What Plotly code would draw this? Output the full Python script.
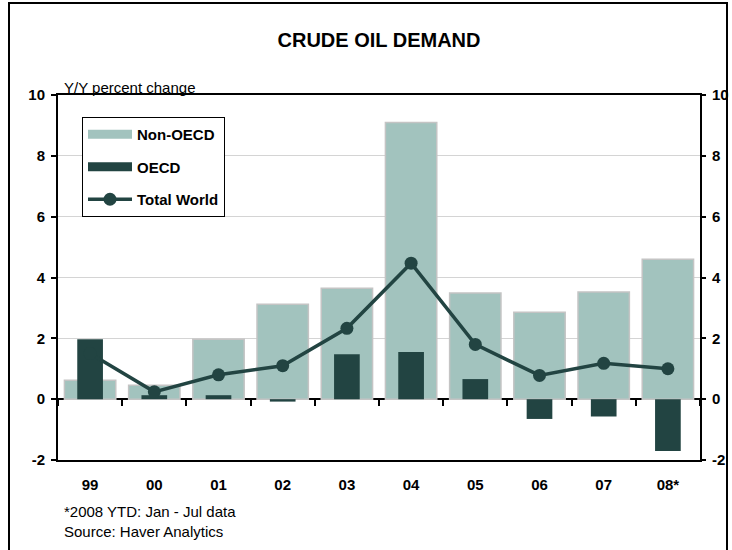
import plotly.graph_objects as go

categories = ["99", "00", "01", "02", "03", "04", "05", "06", "07", "08*"]
non_oecd = [0.62, 0.46, 1.97, 3.12, 3.65, 9.1, 3.49, 2.86, 3.52, 4.6]
oecd = [1.97, 0.13, 0.13, -0.08, 1.48, 1.55, 0.66, -0.65, -0.57, -1.7]
total_world = [1.5, 0.24, 0.8, 1.1, 2.33, 4.47, 1.8, 0.78, 1.18, 1.0]
y_ticks = [-2, 0, 2, 4, 6, 8, 10]
y_tick_text = ["-2", "0", "2", "4", "6", "8", "10"]

LIGHT = "#a2c3be"
DARK = "#224442"
FONT = "Arial, Liberation Sans, sans-serif"

fig = go.Figure()
fig.add_trace(go.Bar(x=categories, y=non_oecd, name="Non-OECD", width=0.8,
                     marker=dict(color=LIGHT, line=dict(color="#c4c4c4", width=1.5)),
                     showlegend=False))
fig.add_trace(go.Bar(x=categories, y=oecd, name="OECD", width=0.4,
                     marker=dict(color=DARK, line=dict(width=0)),
                     showlegend=False))
fig.add_trace(go.Scatter(x=categories, y=total_world, name="Total World",
                         mode="lines+markers",
                         line=dict(color=DARK, width=3.5),
                         marker=dict(color=DARK, size=13),
                         showlegend=False))
# legend proxies (wide rectangular swatches like the original)
fig.add_trace(go.Scatter(x=[None], y=[None], name="Non-OECD", mode="lines",
                         line=dict(color=LIGHT, width=9), legendgroup="a"))
fig.add_trace(go.Scatter(x=[None], y=[None], name="OECD", mode="lines",
                         line=dict(color=DARK, width=9), legendgroup="b"))
fig.add_trace(go.Scatter(x=[None], y=[None], name="Total World", mode="lines+markers",
                         line=dict(color=DARK, width=3.5),
                         marker=dict(color=DARK, size=13), legendgroup="c"))
# helper traces to register the secondary axes
fig.add_trace(go.Scatter(x=categories, y=[None] * len(categories), xaxis="x2",
                         showlegend=False, hoverinfo="skip"))
fig.add_trace(go.Scatter(x=categories, y=[None] * len(categories), yaxis="y2",
                         showlegend=False, hoverinfo="skip"))

axis_font = dict(family=FONT, size=15, color="black", weight="bold")

fig.update_layout(
    width=732, height=550,
    margin=dict(l=58, r=32, t=95, b=90, autoexpand=False),
    paper_bgcolor="white", plot_bgcolor="white",
    barmode="overlay",
    showlegend=True,
    title=dict(text="<b>CRUDE OIL DEMAND</b>", x=0.5, xref="paper", xanchor="center",
               y=1 - 40 / 550, yanchor="middle",
               font=dict(family=FONT, size=20, color="black")),
    legend=dict(x=(82 - 58) / 642, y=(460 - 117) / 365, xanchor="left", yanchor="top",
                bgcolor="white", bordercolor="black", borderwidth=1,
                font=dict(family=FONT, size=15, color="black", weight="bold"),
                tracegroupgap=10, itemwidth=44, traceorder="grouped"),
    xaxis=dict(type="category", categoryorder="array", categoryarray=categories,
               range=[-0.5, 9.5], showline=True, linecolor="black", linewidth=2,
               mirror=True, ticks="", showgrid=False, tickfont=axis_font,
               ticklabelstandoff=10, fixedrange=True, automargin=False),
    xaxis2=dict(type="category", categoryorder="array", categoryarray=categories,
                range=[-0.5, 9.5], overlaying="x", anchor="free", position=2 / 12,
                tickson="boundaries", ticks="outside", ticklen=6, tickwidth=1.5,
                tickcolor="black", showticklabels=False, showline=False,
                showgrid=False, zeroline=False, automargin=False),
    yaxis=dict(range=[-2, 10], tickvals=y_ticks, ticktext=y_tick_text,
               showline=True, linecolor="black",
               linewidth=2, mirror=True, ticks="outside", ticklen=5, tickwidth=1.5,
               tickcolor="black", showgrid=True, gridcolor="#d4d4d4", gridwidth=1,
               zeroline=True, zerolinecolor="black", zerolinewidth=2,
               tickfont=axis_font, ticklabelstandoff=3, automargin=False),
    yaxis2=dict(range=[-2, 10], tickvals=y_ticks, ticktext=y_tick_text,
                overlaying="y", side="right",
                ticks="outside", ticklen=5, tickwidth=1.5, tickcolor="black",
                showgrid=False, zeroline=False, showline=False, tickfont=axis_font,
                ticklabelstandoff=3, automargin=False),
    annotations=[
        dict(text="Y/Y percent change", xref="paper", yref="paper",
             x=(62 - 58) / 642, y=(460 - 88) / 365, xanchor="left", yanchor="middle",
             showarrow=False, font=dict(family=FONT, size=15, color="black")),
        dict(text="*2008 YTD: Jan - Jul data", xref="paper", yref="paper",
             x=(62 - 58) / 642, y=(460 - 511) / 365, xanchor="left", yanchor="middle",
             showarrow=False, font=dict(family=FONT, size=15, color="black")),
        dict(text="Source: Haver Analytics", xref="paper", yref="paper",
             x=(62 - 58) / 642, y=(460 - 531) / 365, xanchor="left", yanchor="middle",
             showarrow=False, font=dict(family=FONT, size=15, color="black")),
    ],
    shapes=[
        dict(type="rect", xref="paper", yref="paper",
             x0=(9 - 58) / 642, x1=(727 - 58) / 642,
             y0=(460 - 560) / 365, y1=(460 - 3) / 365,
             line=dict(color="black", width=2), fillcolor="rgba(0,0,0,0)", layer="below"),
    ],
)

fig.write_html("out.html", config={"displayModeBar": False},
               post_script="document.body.style.margin='0';"
                           "document.body.style.overflow='hidden';"
                           "document.documentElement.style.overflow='hidden';")
